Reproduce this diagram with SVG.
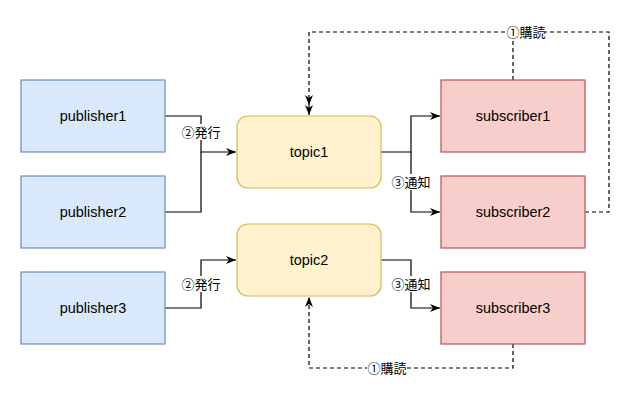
<svg xmlns="http://www.w3.org/2000/svg" width="644" height="410" viewBox="0 0 644 410">
<style>
.pub{fill:#dae8fc;stroke:#6c8ebf;stroke-width:1.2}
.top{fill:#fff2cc;stroke:#d6b656;stroke-width:1.2}
.sub{fill:#f8cecc;stroke:#b85450;stroke-width:1.2}
.t{font-family:"Liberation Sans","Noto Sans CJK JP",sans-serif;font-size:14.4px;fill:#000;text-anchor:middle;dominant-baseline:central}
.e{fill:none;stroke:#000;stroke-width:1.2}
.d{stroke-dasharray:4 3}
.lb{font-family:"Liberation Sans","Noto Sans CJK JP",sans-serif;font-size:13px;fill:#000;text-anchor:middle;dominant-baseline:central}
.bg{fill:#fff}
</style>
<defs>
<marker id="ar" viewBox="0 0 10 10" refX="10" refY="5" markerWidth="10" markerHeight="10" markerUnits="userSpaceOnUse" orient="auto">
<path d="M0,1 L10,5 L0,9 L3,5 Z" fill="#000"/>
</marker>
</defs>
<rect width="644" height="410" fill="#fff"/>
<g id="connectors">
<path class="e" d="M165,116 H201 V152 H236" marker-end="url(#ar)"/>
<path class="e" d="M165,212 H201 V152"/>
<path class="e" d="M165,308 H201 V260 H236" marker-end="url(#ar)"/>
<path class="e" d="M381,152 H411 V116 H440" marker-end="url(#ar)"/>
<path class="e" d="M411,152 V212 H440" marker-end="url(#ar)"/>
<path class="e" d="M381,260 H411 V308 H440" marker-end="url(#ar)"/>
<path class="e d" d="M513,80 V32 H309 V105" marker-end="url(#ar)"/>
<path class="e d" d="M585,212 H609 V32 H513"/>
<path class="e" d="M309,105 V115" marker-end="url(#ar)"/>
<path class="e d" d="M513,344 V368 H309 V297" marker-end="url(#ar)"/>
<rect class="bg" x="182" y="124" width="38" height="16"/>
<text class="lb" x="201" y="132">②発行</text>
<rect class="bg" x="182" y="276" width="38" height="16"/>
<text class="lb" x="201" y="284">②発行</text>
<rect class="bg" x="392" y="174" width="38" height="16"/>
<text class="lb" x="411" y="182">③通知</text>
<rect class="bg" x="392" y="276" width="38" height="16"/>
<text class="lb" x="411" y="284">③通知</text>
<rect class="bg" x="507" y="24" width="38" height="16"/>
<text class="lb" x="526" y="32">①購読</text>
<rect class="bg" x="367" y="360" width="40" height="16"/>
<text class="lb" x="387" y="368">①購読</text>
</g>
<g id="publisher1"><rect class="pub" x="21" y="80" width="144" height="72"/><text class="t" x="93" y="116">publisher1</text></g>
<g id="publisher2"><rect class="pub" x="21" y="176" width="144" height="72"/><text class="t" x="93" y="212">publisher2</text></g>
<g id="publisher3"><rect class="pub" x="21" y="272" width="144" height="72"/><text class="t" x="93" y="308">publisher3</text></g>
<g id="topic1"><rect class="top" x="237" y="116" width="144" height="72" rx="10.8"/><text class="t" x="309" y="152">topic1</text></g>
<g id="topic2"><rect class="top" x="237" y="224" width="144" height="72" rx="10.8"/><text class="t" x="309" y="260">topic2</text></g>
<g id="subscriber1"><rect class="sub" x="441" y="80" width="144" height="72"/><text class="t" x="513" y="116">subscriber1</text></g>
<g id="subscriber2"><rect class="sub" x="441" y="176" width="144" height="72"/><text class="t" x="513" y="212">subscriber2</text></g>
<g id="subscriber3"><rect class="sub" x="441" y="272" width="144" height="72"/><text class="t" x="513" y="308">subscriber3</text></g>
</svg>
